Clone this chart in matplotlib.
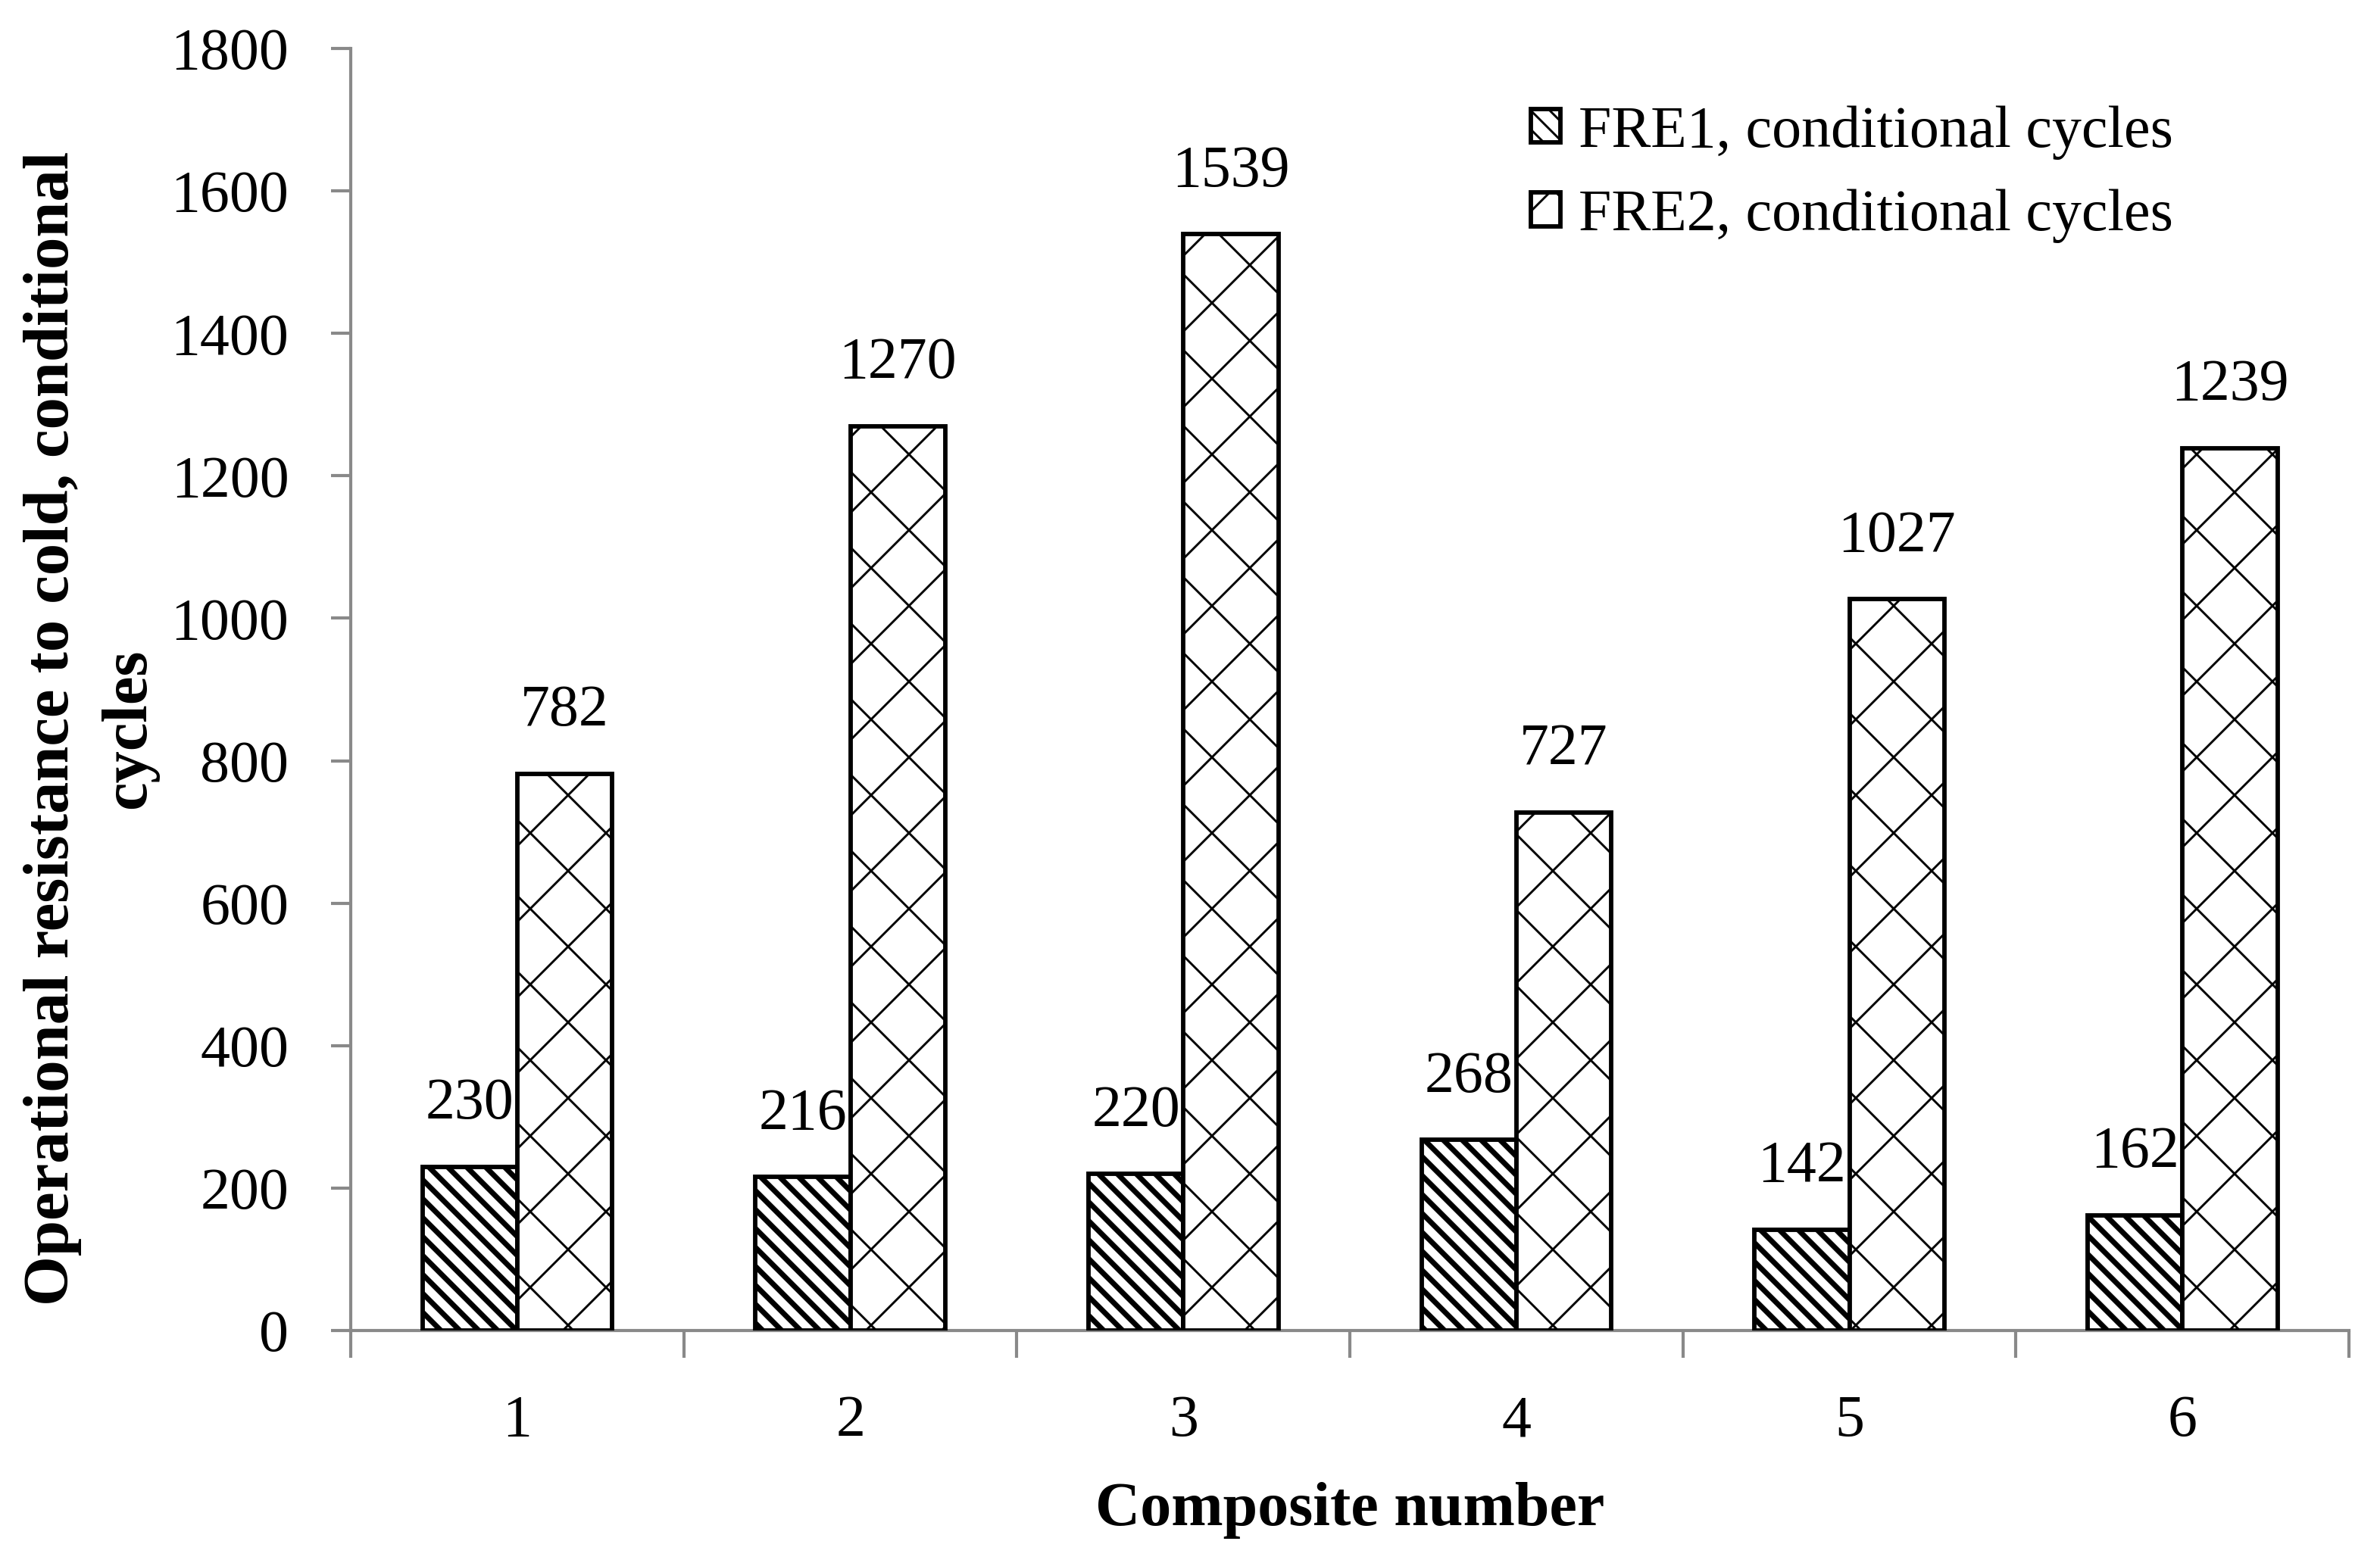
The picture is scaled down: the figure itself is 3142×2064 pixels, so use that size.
import numpy as np
import matplotlib
matplotlib.use("Agg")
import matplotlib.pyplot as plt
from matplotlib.ticker import FixedLocator, NullFormatter

plt.rcParams['font.family'] = ['Liberation Serif', 'DejaVu Serif']

composites = ['1', '2', '3', '4', '5', '6']
fre1 = [230, 216, 220, 268, 142, 162]
fre2 = [782, 1270, 1539, 727, 1027, 1239]
series_names = ['FRE1, conditional cycles', 'FRE2, conditional cycles']

DPI = 300
fig = plt.figure(figsize=(3142 / DPI, 2064 / DPI), dpi=DPI)
ax = fig.add_axes([0.1474, 0.1487, 0.8396, 0.8203])

x = np.arange(1, len(composites) + 1)
w = 0.285
axis_col = '#898989'
fs = 18.7

plt.rcParams['hatch.linewidth'] = 1.7
b1 = ax.bar(x - w / 2, fre1, w, color='white', edgecolor='black', linewidth=1.4,
            hatch='\\\\\\\\', label=series_names[0], zorder=3)
plt.rcParams['hatch.linewidth'] = 0.7
b2 = ax.bar(x + w / 2, fre2, w, color='white', edgecolor='black', linewidth=1.4,
            hatch='x', label=series_names[1], zorder=3)
for b in b1:
    if hasattr(b, 'set_hatch_linewidth'):
        b.set_hatch_linewidth(1.7)
for b in b2:
    if hasattr(b, 'set_hatch_linewidth'):
        b.set_hatch_linewidth(0.7)

for bars in (b1, b2):
    for bar in bars:
        h = bar.get_height()
        ax.annotate(str(int(h)), (bar.get_x() + bar.get_width() / 2, h),
                    xytext=(0, 19.7), textcoords='offset points',
                    ha='center', va='center', fontsize=fs)

ax.set_xlim(0.5, 6.5)
ax.set_ylim(0, 1800)
ax.set_yticks(np.arange(0, 1801, 200))

ax.xaxis.set_major_locator(FixedLocator(np.arange(0.5, 7, 1)))
ax.xaxis.set_major_formatter(NullFormatter())
ax.xaxis.set_minor_locator(FixedLocator(x))
ax.set_xticklabels(composites, minor=True)
ax.tick_params(axis='x', which='major', length=8.7, width=1, color=axis_col)
ax.tick_params(axis='x', which='minor', length=0, pad=20.3, labelsize=fs)
ax.tick_params(axis='y', length=6.3, width=1, color=axis_col, pad=13.3, labelsize=fs)

for s in ['top', 'right']:
    ax.spines[s].set_visible(False)
for s in ['left', 'bottom']:
    ax.spines[s].set_color(axis_col)
    ax.spines[s].set_linewidth(1)

pos = ax.get_position()
fig.text((pos.x0 + pos.x1) / 2, 1 - 1994 / 2064, 'Composite number', ha='center', va='center',
         fontsize=19.7, fontweight='bold')
fig.text(120 / 3142, 1 - 962 / 2064, 'Operational resistance to cold, conditional\ncycles',
         ha='center', va='center', rotation=90, fontsize=20.3, fontweight='bold',
         linespacing=1.4, multialignment='center')

ax.legend(loc='upper left', bbox_to_anchor=(1990 / 3142, 1 - 108 / 2064),
          bbox_transform=fig.transFigure, frameon=False, fontsize=fs,
          handlelength=0.5, handleheight=0.5, handletextpad=0.3, labelspacing=0.5,
          borderaxespad=0)

fig.savefig('out.png', dpi=DPI)
